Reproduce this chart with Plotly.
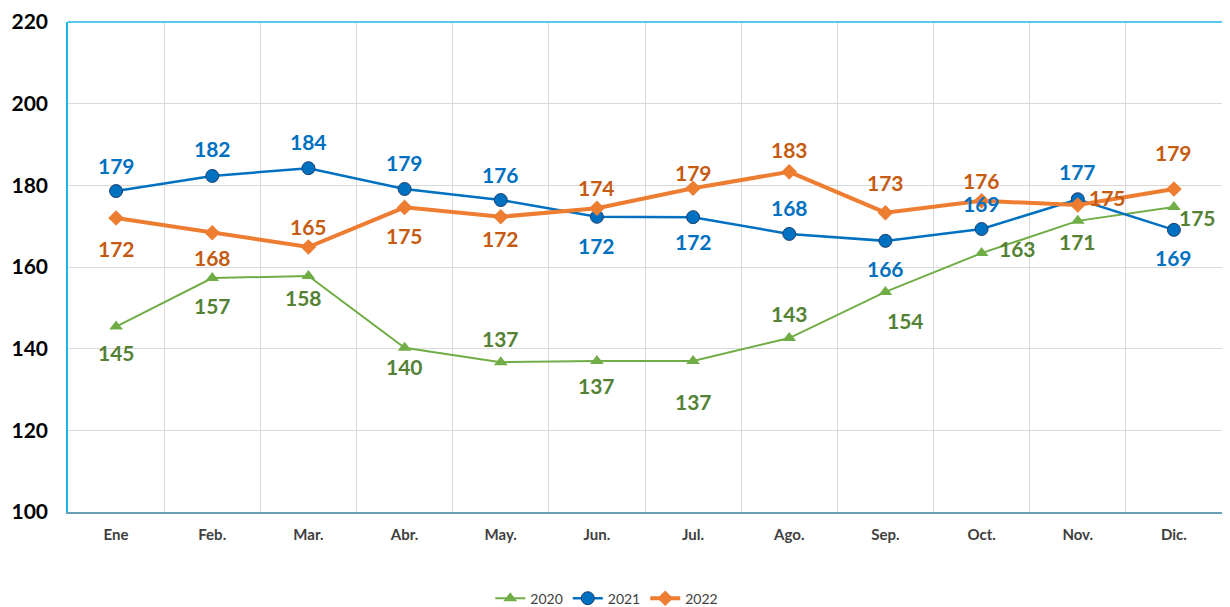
import plotly.graph_objects as go

months = ["Ene", "Feb.", "Mar.", "Abr.", "May.", "Jun.", "Jul.", "Ago.", "Sep.", "Oct.", "Nov.", "Dic."]
y2020 = [145.4, 157.3, 157.8, 140.2, 136.7, 137.0, 137.0, 142.6, 153.9, 163.4, 171.3, 174.7]
y2021 = [178.6, 182.3, 184.2, 179.1, 176.4, 172.3, 172.2, 168.1, 166.4, 169.3, 176.6, 169.1]
y2022 = [172.0, 168.4, 164.9, 174.6, 172.3, 174.4, 179.3, 183.3, 173.3, 176.2, 175.2, 179.1]
y_ticks = [100, 120, 140, 160, 180, 200, 220]

# label offsets (pixels) - styling only
off2020 = [(0, -26), (0, -27), (-5, -22), (0, -19), (0, 24), (0, -25), (0, -41), (0, 25), (20, -29), (36, 5), (0, -21), (24, -11)]
off2021 = [(0, 26), (0, 27), (0, 27), (0, 27), (0, 26), (0, -29), (0, -24), (0, 26), (0, -28), (0, 26), (0, 28), (0, -28)]
off2022 = [(0, -30), (0, -25), (0, 20), (0, -28), (0, -22), (0, 21), (0, 16), (0, 22), (0, 30), (0, 20), (30, 7), (0, 37)]

FONT = "Lato"

fig = go.Figure()
fig.add_trace(go.Scatter(
    x=months, y=y2020, name="2020", mode="lines+markers",
    line=dict(color="#70AD47", width=2),
    marker=dict(symbol="triangle-up", size=12, color="#70AD47"),
))
fig.add_trace(go.Scatter(
    x=months, y=y2021, name="2021", mode="lines+markers",
    line=dict(color="#0070C0", width=2.5),
    marker=dict(symbol="circle", size=13, color="#0070C0", line=dict(color="#1F3F6E", width=1)),
))
fig.add_trace(go.Scatter(
    x=months, y=y2022, name="2022", mode="lines+markers",
    line=dict(color="#ED7D31", width=4),
    marker=dict(symbol="diamond", size=12, color="#ED7D31"),
))

annotations = []
for vals, offs, col in [(y2020, off2020, "#548235"), (y2021, off2021, "#0070C0"), (y2022, off2022, "#C55A11")]:
    for m, v, (dx, dy) in zip(months, vals, offs):
        annotations.append(dict(
            x=m, y=v, xref="x", yref="y", text=f"{v:.0f}", showarrow=False,
            xshift=dx, yshift=dy,
            font=dict(family=FONT, size=21, color=col, weight="bold"),
        ))

# page body has an 8px margin, so the figure is drawn 8px in from the top-left
fig.update_layout(
    width=1222, height=599,
    margin=dict(l=60, r=8, t=14, b=95),
    paper_bgcolor="white", plot_bgcolor="white",
    annotations=annotations,
    showlegend=True,
    legend=dict(orientation="h", x=0.49, xanchor="center", xref="container",
                y=0.014, yanchor="middle", yref="container",
                font=dict(family=FONT, size=14, color="#404040"),
                itemwidth=30, tracegroupgap=0),
    shapes=[dict(type="line", xref="paper", yref="paper", x0=0, x1=1, y0=1, y1=1,
                 line=dict(color="#1FB4E8", width=1.5))],
)
fig.update_xaxes(
    type="category", range=[-0.5, 11.5], tickson="boundaries", automargin=False,
    showgrid=True, gridcolor="#D9D9D9", gridwidth=1,
    showline=True, linecolor="#6A9FB5", linewidth=1.5,
    ticks="", ticklabelstandoff=8,
    tickfont=dict(family=FONT, size=15, color="#404040", weight="bold"),
)
fig.update_yaxes(
    range=[100, 220], tickvals=y_ticks, automargin=False,
    showgrid=True, gridcolor="#D9D9D9", gridwidth=1,
    showline=True, linecolor="#1FB4E8", linewidth=1.5, mirror=True,
    zeroline=False, ticks="", ticklabelstandoff=14,
    tickfont=dict(family=FONT, size=21, color="#000000", weight="bold"),
)

fig.write_html("out.html")
